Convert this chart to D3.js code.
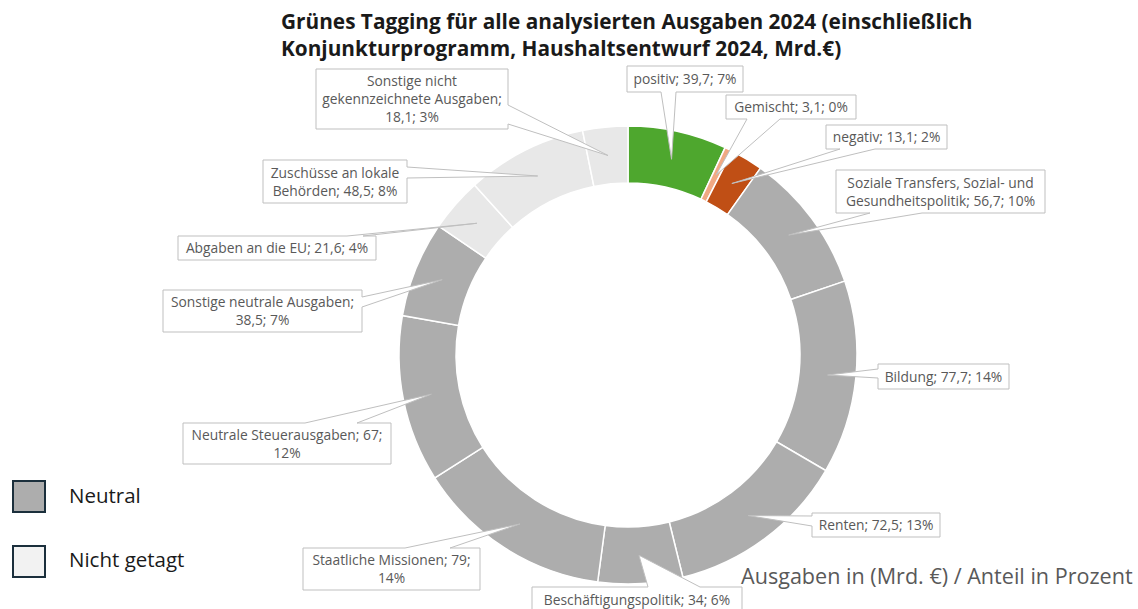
<!DOCTYPE html>
<html>
<head>
<meta charset="utf-8">
<script src="https://cdn.jsdelivr.net/npm/d3@7"></script>
<style>
    body { margin: 0; background: #fff; }
    svg { display: block; font-family: "Open Sans", sans-serif; }
    .lbl-box { fill: #fff; stroke: #bfbfbf; stroke-width: 1; }
    .lbl-text { fill: #595959; font-size: 13.8px; }
</style>
</head>
<body>
<div id="chart"></div>
<script>
    // data
    const categories = [
        "positiv", "Gemischt", "negativ",
        "Soziale Transfers, Sozial- und Gesundheitspolitik",
        "Bildung", "Renten", "Beschäftigungspolitik", "Staatliche Missionen",
        "Neutrale Steuerausgaben", "Sonstige neutrale Ausgaben",
        "Abgaben an die EU", "Zuschüsse an lokale Behörden",
        "Sonstige nicht gekennzeichnete Ausgaben"
    ];
    const values = [39.7, 3.1, 13.1, 56.7, 77.7, 72.5, 34, 79, 67, 38.5, 21.6, 48.5, 18.1];
    const shares = [7, 0, 2, 10, 14, 13, 6, 14, 12, 7, 4, 8, 3];
    const groups = ["positiv", "gemischt", "negativ", "neutral", "neutral", "neutral", "neutral",
                    "neutral", "neutral", "neutral", "nicht", "nicht", "nicht"];
    const legendGroups = ["neutral", "nicht"];
    const legendLabels = ["Neutral", "Nicht getagt"];
    const titleLines = [
        "Grünes Tagging für alle analysierten Ausgaben 2024 (einschließlich",
        "Konjunkturprogramm, Haushaltsentwurf 2024, Mrd.€)"
    ];
    const note = "Ausgaben in (Mrd. €) / Anteil in Prozent";

    let w = 1138, h = 609;
    let cx = 628, cy = 355;
    let rOuter = 229, rInner = 172;

    let color = d3.scaleOrdinal()
        .domain(["positiv", "gemischt", "negativ", "neutral", "nicht"])
        .range(["#4ea72e", "#f1a983", "#c04f15", "#adadad", "#e8e8e8"]);
    let legendFill = d3.scaleOrdinal().domain(legendGroups).range(["#adadad", "#f2f2f2"]);

    // callout boxes: position, size, which edge the wedge leaves from, wedge base, words per line
    let layout = [
        { x: 627, y: 66,  w: 116, h: 26, side: "bottom", b: [661, 676], lines: null },
        { x: 726, y: 95,  w: 130, h: 24, side: "bottom", b: [747, 780], lines: null },
        { x: 826, y: 125, w: 121, h: 24, side: "bottom", b: [840, 875], lines: null },
        { x: 836, y: 170, w: 209, h: 43, side: "bottom", b: [870, 922], lines: [4, 3] },
        { x: 878, y: 364, w: 131, h: 25, side: "left",   b: [369, 378], lines: null },
        { x: 812, y: 513, w: 128, h: 24, side: "left",   b: [516, 526], lines: null },
        { x: 532, y: 587, w: 210, h: 26, side: "top",    b: [648, 700], lines: null },
        { x: 303, y: 548, w: 177, h: 42, side: "top",    b: [405, 450], lines: [3, 1] },
        { x: 183, y: 423, w: 208, h: 41, side: "top",    b: [305, 357], lines: [3, 1] },
        { x: 163, y: 290, w: 199, h: 42, side: "right",  b: [297, 307], lines: [3, 2] },
        { x: 178, y: 236, w: 198, h: 24, side: "top",    b: [347, 363], lines: null },
        { x: 263, y: 160, w: 144, h: 43, side: "right",  b: [167, 178], lines: [3, 3] },
        { x: 316, y: 69,  w: 192, h: 60, side: "right",  b: [105, 124], lines: [2, 2, 2] }
    ];

    let svg = d3.select("#chart").append("svg")
        .attr("width", w)
        .attr("height", h);

    // fit a text element to a given width
    function fit(sel, target) {
        let len = sel.node().getComputedTextLength();
        let fs = parseFloat(sel.attr("font-size"));
        sel.attr("font-size", fs * target / len);
        return fs * target / len;
    }

    // title
    let t1 = svg.append("text")
        .attr("x", 281).attr("y", 29)
        .attr("font-size", 20).attr("font-weight", "bold").attr("fill", "#1a1a1a")
        .text(titleLines[0]);
    let tfs = fit(t1, 692);
    svg.append("text")
        .attr("x", 281).attr("y", 56)
        .attr("font-size", tfs).attr("font-weight", "bold").attr("fill", "#1a1a1a")
        .text(titleLines[1]);

    // donut
    let pie = d3.pie().sort(null).value(d => d)(values);
    let arc = d3.arc().innerRadius(rInner).outerRadius(rOuter);

    let g = svg.append("g").attr("transform", "translate(" + cx + "," + cy + ")");
    g.selectAll("path")
        .data(pie)
        .enter().append("path")
            .attr("d", arc)
            .attr("fill", (d, i) => color(groups[i]))
            .attr("stroke", "#fff")
            .attr("stroke-width", 1.5);

    function fmt(v) { return String(v).replace(".", ","); }

    // callouts
    function calloutPath(L, tip) {
        let x0 = L.x, y0 = L.y, x1 = L.x + L.w, y1 = L.y + L.h;
        let a = Math.min(L.b[0], L.b[1]), b = Math.max(L.b[0], L.b[1]);
        let p;
        if (L.side == "top")
            p = [[x0, y0], [a, y0], tip, [b, y0], [x1, y0], [x1, y1], [x0, y1]];
        else if (L.side == "right")
            p = [[x0, y0], [x1, y0], [x1, a], tip, [x1, b], [x1, y1], [x0, y1]];
        else if (L.side == "bottom")
            p = [[x0, y0], [x1, y0], [x1, y1], [b, y1], tip, [a, y1], [x0, y1]];
        else
            p = [[x0, y0], [x1, y0], [x1, y1], [x0, y1], [x0, b], tip, [x0, a]];
        return "M" + p.map(q => q[0] + "," + q[1]).join("L") + "Z";
    }

    let labels = svg.append("g");
    pie.forEach(function(d, i) {
        let L = layout[i];
        let c = arc.centroid(d);
        let tip = [cx + c[0], cy + c[1]];
        labels.append("path")
            .attr("class", "lbl-box")
            .attr("d", calloutPath(L, tip));

        let words = (categories[i] + "; " + fmt(values[i]) + "; " + shares[i] + "%").split(" ");
        let counts = L.lines || [words.length];
        let rows = [], k = 0;
        counts.forEach(function(n) { rows.push(words.slice(k, k + n).join(" ")); k += n; });

        let lh = 18;
        let y0 = L.y + L.h / 2 - (rows.length - 1) * lh / 2 + 5;
        let txt = labels.append("text")
            .attr("class", "lbl-text")
            .attr("text-anchor", "middle");
        rows.forEach(function(r, j) {
            txt.append("tspan")
                .attr("x", L.x + L.w / 2)
                .attr("y", y0 + j * lh)
                .text(r);
        });
    });

    // legend
    let legend = svg.append("g");
    legendLabels.forEach(function(lab, i) {
        legend.append("rect")
            .attr("x", 13).attr("y", 481 + i * 65)
            .attr("width", 32).attr("height", 31)
            .attr("fill", legendFill(legendGroups[i]))
            .attr("stroke", "#1b2f3c").attr("stroke-width", 2);
        legend.append("text")
            .attr("x", 69).attr("y", 503 + i * 64)
            .attr("font-size", 20.5).attr("fill", "#1a1a1a")
            .text(lab);
    });

    // note
    let nt = svg.append("text")
        .attr("x", 741).attr("y", 584)
        .attr("font-size", 21).attr("fill", "#595959")
        .text(note);
    fit(nt, 392);
</script>
</body>
</html>
